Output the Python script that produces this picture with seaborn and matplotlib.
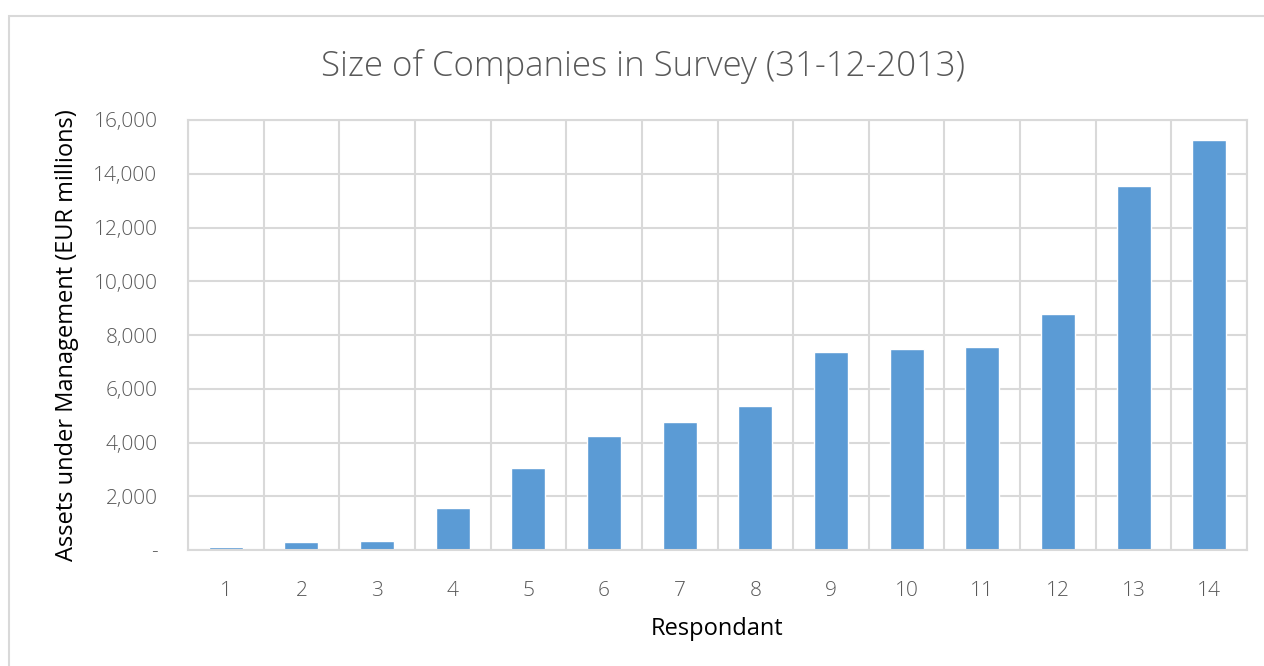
import matplotlib
matplotlib.use("Agg")
import matplotlib.pyplot as plt
import matplotlib.ticker as mticker
from matplotlib.patches import Rectangle
import seaborn as sns
import pandas as pd

respondents = [str(i) for i in range(1, 15)]
assets = [112, 310, 347, 1550, 3050, 4255, 4750, 5350, 7355, 7470, 7545, 8770, 13555, 15255]
y_ticks = [0, 2000, 4000, 6000, 8000, 10000, 12000, 14000, 16000]

title = "Size of Companies in Survey (31-12-2013)"
x_label = "Respondant"
y_label = "Assets under Management (EUR millions)"

sns.set_theme(style="white")
plt.rcParams['font.family'] = ['Open Sans', 'DejaVu Sans']

df = pd.DataFrame({"Respondant": respondents, "AuM": assets})

fig = plt.figure(figsize=(12.64, 6.66), dpi=100)
ax = fig.add_axes([188/1264, 1-550/666, (1247-188)/1264, 430/666])

sns.barplot(data=df, x="Respondant", y="AuM", color="#5B9BD5", width=0.45,
            saturation=1, ax=ax, zorder=3)

ax.set_ylim(0, 16000)
ax.set_xlim(-0.5, len(respondents) - 0.5)
ax.set_yticks(y_ticks)
ax.yaxis.set_major_formatter(mticker.FuncFormatter(lambda v, p: "-" if v == 0 else f"{int(v):,}"))

grid_c = "#D9D9D9"
ax.yaxis.grid(True, color=grid_c, linewidth=1.5, zorder=0)
ax.set_xticks([i for i in range(len(respondents))])
ax.set_xticks([i - 0.5 for i in range(len(respondents) + 1)], minor=True)
ax.xaxis.grid(True, which="minor", color=grid_c, linewidth=1.5, zorder=0)
ax.xaxis.grid(False, which="major")
ax.set_axisbelow(True)

for s in ax.spines.values():
    s.set_color(grid_c)
    s.set_linewidth(1.5)
ax.spines['bottom'].set_zorder(5)

ax.tick_params(axis="both", which="both", length=0, colors="#595959", labelsize=15)
ax.tick_params(axis="x", pad=22)
ax.tick_params(axis="y", pad=22)
for lbl in ax.get_xticklabels() + ax.get_yticklabels():
    lbl.set_fontweight("light")

ax.set_xlabel(x_label, fontsize=17, color="black", labelpad=12)
ax.set_ylabel(y_label, fontsize=17, color="black", labelpad=10)

fig.text(643/1264, 1-66/666, title, ha="center", va="center", fontsize=25,
         color="#595959", fontweight="light")

fig.patches.append(Rectangle((9/1264, -0.1), 1.2, 1-16/666+0.1, transform=fig.transFigure,
                             fill=False, edgecolor="#D9D9D9", linewidth=1.5))

fig.savefig("out.png", dpi=100)
